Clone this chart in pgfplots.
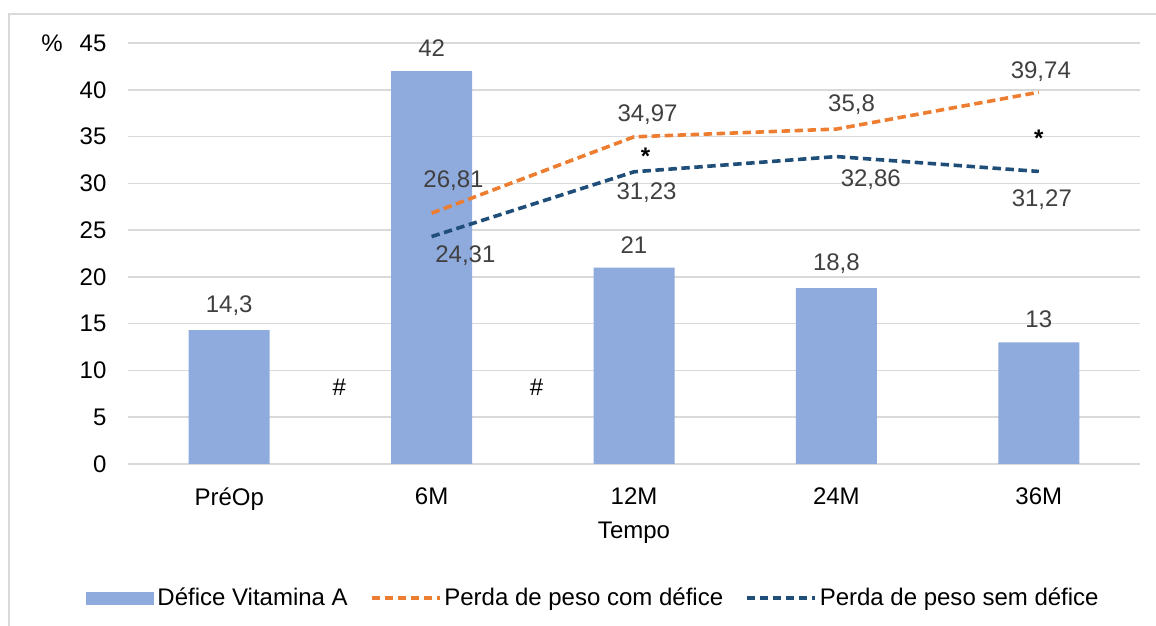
\documentclass[border=0pt]{standalone}
\usepackage{pgfplots}
\pgfplotsset{compat=1.18}
\usepackage{fontspec}
\setmainfont{Liberation Sans}
\definecolor{barblue}{HTML}{8FAADC}
\definecolor{lorange}{HTML}{ED7D31}
\definecolor{ldblue}{HTML}{1F4E79}
\definecolor{gridgray}{HTML}{D9D9D9}
\definecolor{lblgray}{HTML}{404040}
\pgfplotsset{
  mylinelegend/.style={legend image code/.code={\draw[##1] (0pt,0pt) -- (34pt,0pt);}},
  mybarlegend/.style={legend image code/.code={\fill[barblue] (0pt,-3.25pt) rectangle (34pt,3.25pt);}},
}
\newcommand{\cf}{\fontsize{12}{14.4}\selectfont}
\begin{document}
\cf
\begin{tikzpicture}
\useasboundingbox (-64pt,-81pt) rectangle (514pt,232pt);
\draw[gridgray, line width=0.75pt] (-59.5pt,-82pt) -- (-59.5pt,225pt) -- (515pt,225pt);
\begin{axis}[
  at={(0pt,0pt)}, anchor=south west,
  scale only axis, width=506pt, height=210.5pt,
  xmin=-0.5, xmax=4.5, ymin=0, ymax=45,
  xtick={0,1,2,3,4},
  xticklabels={PréOp,6M,12M,24M,36M},
  ytick={0,5,...,45},
  ymajorgrids, grid style={gridgray, line width=0.75pt},
  axis line style={draw=none},
  major tick length=0pt,
  /pgf/number format/assume math mode=true,
  tick label style={font=\cf, text=black},
  xticklabel style={yshift=-7.5pt},
  yticklabel style={xshift=-6.6pt},
  clip=false,
  legend columns=3,
  legend style={draw=none, fill=none, at={(0.4605,-0.3183)}, anchor=center,
    font=\cf,
    /tikz/every even column/.append style={column sep=9.5pt},
    nodes={inner sep=1.5pt}},
]
\addplot[ybar, bar width=40.5pt, fill=barblue, draw=none, mybarlegend,
  nodes near coords, point meta=explicit symbolic,
  every node near coord/.append style={text=lblgray, font=\cf, anchor=south, yshift=3pt}]
  coordinates {(0,14.3)[14,3] (1,42)[42] (2,21)[21] (3,18.8)[18,8] (4,13)[13]};
\addlegendentry{Défice Vitamina A}
\addplot[lorange, line width=1.8pt, dash pattern=on 4.2pt off 2.3pt, mylinelegend]
  coordinates {(1,26.81) (2,34.97) (3,35.8) (4,39.74)};
\addlegendentry{Perda de peso com défice}
\addplot[ldblue, line width=1.8pt, dash pattern=on 4.2pt off 2.3pt, mylinelegend]
  coordinates {(1,24.31) (2,31.23) (3,32.86) (4,31.27)};
\addlegendentry{Perda de peso sem défice}
\begin{scope}[every node/.style={text=lblgray, font=\cf}]
\node at (axis cs:1.108,30.25) {26,81};
\node at (axis cs:2.067,37.3) {34,97};
\node at (axis cs:3.075,38.4) {35,8};
\node at (axis cs:4.01,41.9) {39,74};
\node at (axis cs:1.167,22.3) {24,31};
\node at (axis cs:2.062,29.0) {31,23};
\node at (axis cs:3.17,30.35) {32,86};
\node at (axis cs:4.015,28.3) {31,27};
\end{scope}
\begin{scope}[every node/.style={text=black, font=\cf}]
\node at (axis cs:0.544,8.2) {\#};
\node at (axis cs:1.518,8.2) {\#};
\node at (axis cs:2.057,32.9) {\textbf{*}};
\node at (axis cs:4.0,34.8) {\textbf{*}};
\node at (rel axis cs:0.5,-0.164) {Tempo};
\node at (rel axis cs:-0.0751,0.9988) {\%};
\end{scope}
\end{axis}
\end{tikzpicture}
\end{document}
